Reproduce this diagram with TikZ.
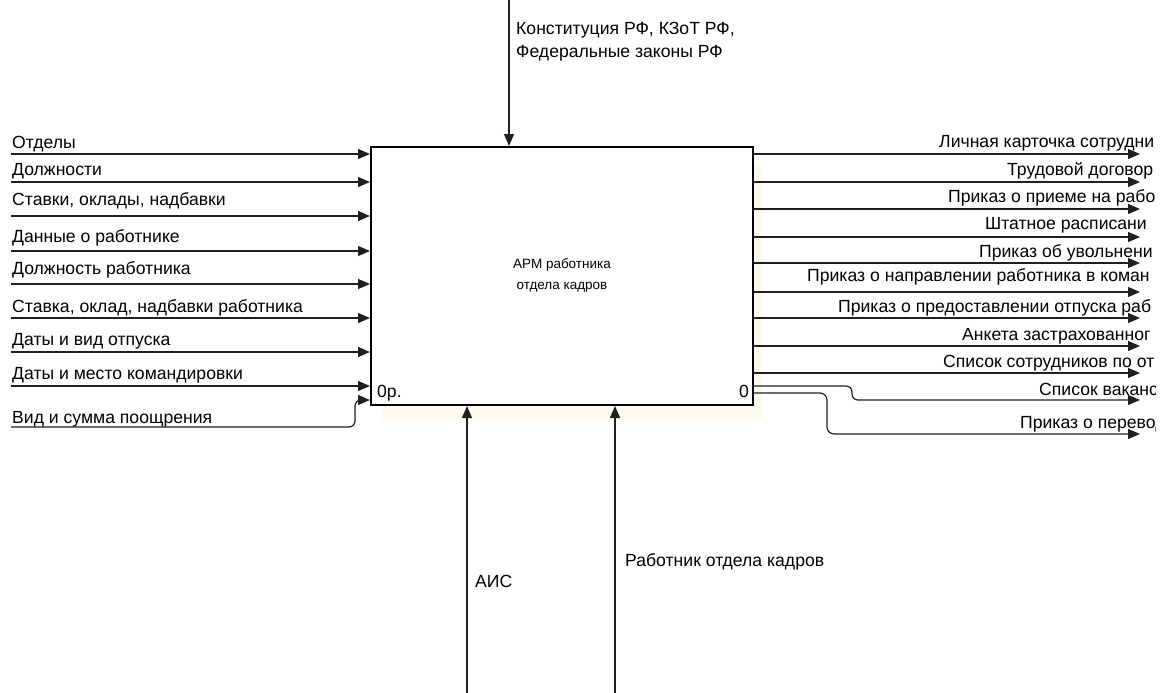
\documentclass[tikz,border=0pt]{standalone}
\usepackage{fontspec}
\setmainfont{Liberation Sans}
\usetikzlibrary{arrows.meta}
\definecolor{shadowcol}{HTML}{FFF9EE}
\definecolor{linecol} {HTML}{202020}
\tikzset{
  fbox/.style={rectangle, draw, line width=2pt, fill=white, minimum width=382pt, minimum height=258pt, inner sep=0pt},
  flow/.style={-{Triangle[length=12pt,width=10pt]}, line width=1.2pt, draw=linecol},
  tlabel/.style={anchor=base west, inner sep=0pt, font=\fontsize{17.6}{23}\selectfont},
  blabel/.style={anchor=base, inner sep=0pt, align=center, font=\fontsize{13.5}{21}\selectfont},
}

\begin{document}
\begin{tikzpicture}[x=1pt, y=-1pt]
  \useasboundingbox (0,0) rectangle (1164,693);
  % shadow and function box
  \fill[shadowcol] (382,162) rectangle (763,420);
  \node[fbox] (arm) at (562,276) {};
  \node[blabel] (armtxt) at (562,289) {АРМ работника\\отдела кадров};
  \node[tlabel] (armno) at (377,397) {0р.};
  \node[tlabel, anchor=base east] (armnum) at (749,397) {0};

  % inputs
  \coordinate (i1) at (11,154);
  \coordinate (i2) at (11,182);
  \coordinate (i3) at (11,216);
  \coordinate (i4) at (11,251);
  \coordinate (i5) at (11,284);
  \coordinate (i6) at (11,318);
  \coordinate (i7) at (11,352);
  \coordinate (i8) at (11,386);
  \coordinate (i9) at (11,427);
  \coordinate (i9b) at (355,400);
  \draw[flow] (i1) -- (i1 -| arm.west);
  \draw[flow] (i2) -- (i2 -| arm.west);
  \draw[flow] (i3) -- (i3 -| arm.west);
  \draw[flow] (i4) -- (i4 -| arm.west);
  \draw[flow] (i5) -- (i5 -| arm.west);
  \draw[flow] (i6) -- (i6 -| arm.west);
  \draw[flow] (i7) -- (i7 -| arm.west);
  \draw[flow] (i8) -- (i8 -| arm.west);
  \draw[flow, rounded corners=6pt] (i9) -| (i9b) -- (i9b -| arm.west);
  \node[tlabel] (li1) at (12,148) {Отделы};
  \node[tlabel] (li2) at (12,175) {Должности};
  \node[tlabel] (li3) at (12,205) {Ставки, оклады, надбавки};
  \node[tlabel] (li4) at (12,242) {Данные о работнике};
  \node[tlabel] (li5) at (12,274) {Должность работника};
  \node[tlabel] (li6) at (12,312) {Ставка, оклад, надбавки работника};
  \node[tlabel] (li7) at (12,345) {Даты и вид отпуска};
  \node[tlabel] (li8) at (12,379) {Даты и место командировки};
  \node[tlabel] (li9) at (12,423) {Вид и сумма поощрения};

  % control
  \coordinate (c1) at (509,0);
  \draw[flow] (c1) -- (c1 |- arm.north);
  \node[tlabel, align=left] (lc1) at (516,58) {Конституция РФ, КЗоТ РФ,\\Федеральные законы РФ};

  % mechanisms
  \coordinate (m1) at (467,693);
  \coordinate (m2) at (615,693);
  \draw[flow] (m1) -- (m1 |- arm.south);
  \draw[flow] (m2) -- (m2 |- arm.south);
  \node[tlabel] (lm1) at (475,587) {АИС};
  \node[tlabel] (lm2) at (625,566) {Работник отдела кадров};

  % outputs
  \coordinate (o1) at (1140,154);
  \coordinate (o2) at (1140,182);
  \coordinate (o3) at (1140,209);
  \coordinate (o4) at (1140,237);
  \coordinate (o5) at (1140,263);
  \coordinate (o6) at (1140,292);
  \coordinate (o7) at (1140,318);
  \coordinate (o8) at (1140,346);
  \coordinate (o9) at (1140,373);
  \coordinate (o10a) at (852,386);
  \coordinate (o10) at (1140,400);
  \coordinate (o11a) at (827,393);
  \coordinate (o11) at (1140,434);
  \draw[flow] (o1 -| arm.east) -- (o1);
  \draw[flow] (o2 -| arm.east) -- (o2);
  \draw[flow] (o3 -| arm.east) -- (o3);
  \draw[flow] (o4 -| arm.east) -- (o4);
  \draw[flow] (o5 -| arm.east) -- (o5);
  \draw[flow] (o6 -| arm.east) -- (o6);
  \draw[flow] (o7 -| arm.east) -- (o7);
  \draw[flow] (o8 -| arm.east) -- (o8);
  \draw[flow] (o9 -| arm.east) -- (o9);
  \draw[flow, rounded corners=6pt] (o10a -| arm.east) -- (o10a) |- (o10);
  \draw[flow, rounded corners=7pt] (o11a -| arm.east) -- (o11a) |- (o11);
  \begin{scope}
    \clip (0,0) rectangle (1155,693);
    \node[tlabel] (lo1) at (939,147) {Личная карточка сотрудни};
    \node[tlabel] (lo2) at (1007,175) {Трудовой договор};
    \node[tlabel] (lo3) at (948,202) {Приказ о приеме на рабо};
    \node[tlabel] (lo4) at (985,229) {Штатное расписани};
    \node[tlabel] (lo5) at (979,257) {Приказ об увольнени};
    \node[tlabel] (lo6) at (807,281) {Приказ о направлении работника в коман};
    \node[tlabel] (lo7) at (838,312) {Приказ о предоставлении отпуска раб};
    \node[tlabel] (lo8) at (962,340) {Анкета застрахованног};
    \node[tlabel] (lo9) at (943,367) {Список сотрудников по от};
    \node[tlabel] (lo10) at (1039,395) {Список ваканс};
    \node[tlabel] (lo11) at (1020,428) {Приказ о перевод};
  \end{scope}
\end{tikzpicture}
\end{document}
